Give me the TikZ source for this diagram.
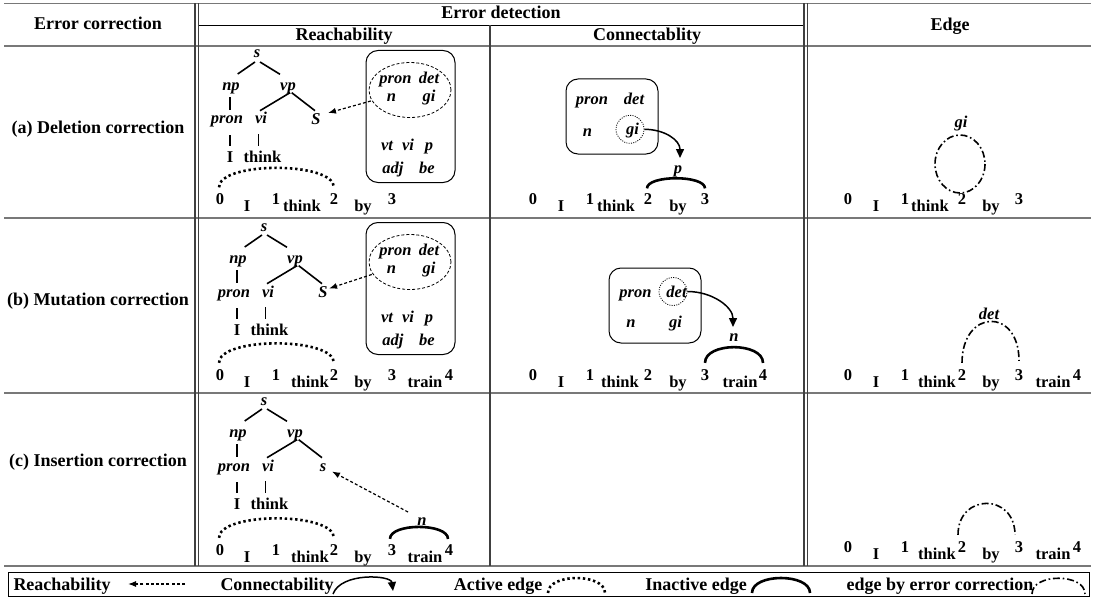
\documentclass[tikz,border=0pt]{standalone}
\usepackage{fontspec}
\setmainfont{Liberation Serif}
\usetikzlibrary{arrows.meta,shapes.geometric}
\definecolor{rulegray}{RGB}{120,120,120}
\tikzset{
  toprule/.style={draw=rulegray, line width=1.8},
  midrule/.style={draw=rulegray, line width=1.3},
  subrule/.style={draw=black, line width=0.9},
  vrule/.style={draw=black!75, line width=1.1},
  hd/.style={font=\fontsize{18}{20}\selectfont\bfseries, inner sep=0, anchor=base},
  lbl/.style={font=\fontsize{16.5}{18}\selectfont\bfseries\itshape, inner sep=0, anchor=base},
  wd/.style={font=\fontsize{16.5}{18}\selectfont\bfseries, inner sep=0, anchor=base},
  tedge/.style={line width=1.6},
  catbox/.style={draw, line width=1, rounded corners=12, inner sep=0},
  catell/.style={draw, ellipse, dash pattern=on 3 off 2, line width=0.8, inner sep=0},
  catcirc/.style={draw, circle, dash pattern=on 1 off 1.3, line width=0.8, inner sep=0, minimum size=28},
  reach/.style={dash pattern=on 3 off 2.2, line width=1.2, -{Latex[length=8pt,width=6pt]}},
  conn/.style={line width=1.5, -{Triangle[length=9pt,width=8pt]}},
  active/.style={line width=2.6, dash pattern=on 2.4 off 2.8},
  inactive/.style={line width=2.6},
  corr/.style={line width=1.6, dash pattern=on 7 off 2.8 on 1.6 off 2.8},
}
\newcommand\sentence[3]{%
  \foreach \tx/\xx/\nm/\dy in {#3}{\node[wd] (#1-\nm) at (\xx,#2+\dy) {\tx};}}
\newcommand\parsetree[4]{%
  \begin{scope}[shift={(#2,#3)}]
    \node[lbl] (#1-s) at (257,58) {s};
    \node[lbl] (#1-np) at (231,90.7) {np};
    \node[lbl] (#1-vp) at (288,90.7) {vp};
    \node[lbl] (#1-pron) at (227,124) {pron};
    \node[lbl] (#1-vi) at (261,124) {vi};
    \node[lbl] (#1-S) at (316,124.5) {#4};
    \node[wd] (#1-I) at (230,162) {I};
    \node[wd] (#1-think) at (262.5,162) {think};
  \end{scope}
  \draw[tedge] ([shift={(-2,4)}]#1-s.base) -- ([shift={(6.7,-16.7)}]#1-np.base);
  \draw[tedge] ([shift={(3,4)}]#1-s.base) -- ([shift={(-8,-16.4)}]#1-vp.base);
  \draw[tedge] ([shift={(-1,6.6)}]#1-np.base) -- ([shift={(3,-14)}]#1-pron.base);
  \draw[tedge] ([shift={(2,2)}]#1-vp.base) -- ([shift={(-1,-13.3)}]#1-vi.base);
  \draw[tedge] ([shift={(3.7,2)}]#1-vp.base) -- ([shift={(-1,-13.8)}]#1-S.base);
  \draw[tedge] ([shift={(3,11)}]#1-pron.base) -- ([shift={(0,-16)}]#1-I.base);
  \draw[tedge] ([shift={(-2.7,10.3)}]#1-vi.base) -- ([shift={(-4.2,-16)}]#1-think.base);
}
\newcommand\catset[3]{%
  \begin{scope}[shift={(#2,#3)}]
    \node[catbox, minimum width=89, minimum height=132] (#1-box) at (410.5,116.5) {};
    \node[catell, minimum width=82, minimum height=55] (#1-ell) at (410,90) {};
    \node[lbl] (#1-pron) at (395.5,83.5) {pron};
    \node[lbl] (#1-det) at (429,83.5) {det};
    \node[lbl] (#1-n) at (391.5,101.5) {n};
    \node[lbl] (#1-gi) at (429,101.5) {gi};
    \node[lbl] (#1-vt) at (387,150) {vt};
    \node[lbl] (#1-vi) at (408,150) {vi};
    \node[lbl] (#1-p) at (429,150) {p};
    \node[lbl] (#1-adj) at (393,173) {adj};
    \node[lbl] (#1-be) at (427,173) {be};
  \end{scope}}
\begin{document}
\begin{tikzpicture}[x=1pt,y=-1pt]
\useasboundingbox (0,0) rectangle (1094,599);
% ---------- table rules ----------
\draw[toprule] (4,3.5) -- (1091,3.5);
\draw[toprule] (4,46) -- (1091,46);
\draw[midrule] (4,218) -- (1091,218);
\draw[midrule] (4,393) -- (1091,393);
\draw[toprule] (4,566) -- (1091,566);
\draw[subrule] (198.5,25.5) -- (804,25.5);
\draw[vrule] (195,3.5) -- (195,566);
\draw[vrule] (198.5,3.5) -- (198.5,566);
\draw[vrule] (804,3.5) -- (804,566);
\draw[vrule] (807.5,3.5) -- (807.5,566);
\draw[vrule] (490,25.5) -- (490,566);
% ---------- header ----------
\node[hd] (h-corr) at (98,30) {Error correction};
\node[hd] (h-det) at (501,19) {Error detection};
\node[hd] (h-reach) at (344,41) {Reachability};
\node[hd] (h-conn) at (647,41) {Connectablity};
\node[hd] (h-edge) at (950,31) {Edge};
% ---------- row labels ----------
\node[hd] (r-a) at (98,133) {(a) Deletion correction};
\node[hd] (r-b) at (98,305) {(b) Mutation correction};
\node[hd] (r-c) at (98,466) {(c) Insertion correction};
% ---------- reachability (a) ----------
\parsetree{ta}{0}{0}{S}
\catset{ca}{0}{0}
\draw[reach, shorten <=1] (ca-ell) -- ([shift={(12,-11.5)}]ta-S.base);
\sentence{ra}{204.5}{0/220/0/0, I/247/I/7, 1/276/1/0, think/302/think/7, 2/334/2/0, by/363/by/7, 3/392/3/0}
\draw[active] ([shift={(-1,-6)}]ra-0.north) .. controls +(0,-26) and +(0,-26) .. ([shift={(0,-6)}]ra-2.north);
% ---------- reachability (b) ----------
\parsetree{tb}{7}{173}{S}
\catset{cb}{0}{172}
\draw[reach, shorten <=1] (cb-ell) -- ([shift={(6,-9)}]tb-S.base);
\sentence{rb}{380}{0/220/0/0, I/247/I/7, 1/276/1/0, think/310/think/7, 2/334/2/0, by/363/by/7, 3/392/3/0, train/425/train/7, 4/449/4/0}
\draw[active] ([shift={(-1,-6)}]rb-0.north) .. controls +(0,-26) and +(0,-26) .. ([shift={(0,-6)}]rb-2.north);
% ---------- reachability (c) ----------
\parsetree{tc}{7}{347}{s}
\sentence{rc}{555}{0/220/0/0, I/247/I/7, 1/276/1/0, think/310/think/7, 2/334/2/0, by/363/by/7, 3/392/3/0, train/425/train/7, 4/449/4/0}
\draw[active] ([shift={(-1,-6)}]rc-0.north) .. controls +(0,-26) and +(0,-26) .. ([shift={(0,-6)}]rc-2.north);
\draw[inactive] ([shift={(-2,-5)}]rc-3.north) .. controls +(0,-16) and +(0,-16) .. ([shift={(-1,-5)}]rc-4.north);
\node[lbl] (rc-n) at (422,525) {n};
\draw[reach] ([shift={(-14,-13)}]rc-n.base) -- ([shift={(9,0)}]tc-S.base);
% ---------- connectability (a) ----------
\node[catbox, minimum width=92, minimum height=75] (ka-box) at (612,116.5) {};
\node[lbl] (ka-pron) at (592,105) {pron};
\node[lbl] (ka-det) at (634,105) {det};
\node[lbl] (ka-n) at (587.5,136.5) {n};
\node[lbl] (ka-gi) at (632.5,134.5) {gi};
\node[catcirc] (ka-circ) at (630,129.3) {};
\node[lbl] (ka-p) at (678,173) {p};
\draw[conn] (ka-circ.east) .. controls +(20,0) and +(0,-18) .. ([shift={(2,-15)}]ka-p.base);
\sentence{ka}{204.5}{0/533/0/0, I/561/I/7, 1/590/1/0, think/616/think/7, 2/648/2/0, by/678/by/7, 3/705/3/0}
\draw[inactive] ([shift={(-1,-5)}]ka-2.north) .. controls +(0,-13.5) and +(0,-13.5) .. ([shift={(0,-5)}]ka-3.north);
% ---------- connectability (b) ----------
\node[catbox, minimum width=92, minimum height=75] (kb-box) at (655,305.5) {};
\node[lbl] (kb-pron) at (635.5,297) {pron};
\node[lbl] (kb-det) at (676.5,297) {det};
\node[lbl] (kb-n) at (631,327) {n};
\node[lbl] (kb-gi) at (675.5,327) {gi};
\node[catcirc] (kb-circ) at (673,291.5) {};
\node[lbl] (kb-n2) at (734,341) {n};
\draw[conn] (kb-circ.east) .. controls +(25,0) and +(0,-20) .. ([shift={(-1,-14)}]kb-n2.base);
\sentence{kb}{380}{0/533/0/0, I/561/I/7, 1/590/1/0, think/620/think/7, 2/648/2/0, by/678/by/7, 3/705/3/0, train/740/train/7, 4/763/4/0}
\draw[inactive] ([shift={(0,-6)}]kb-3.north) .. controls +(0,-21) and +(0,-21) .. ([shift={(0,-6)}]kb-4.north);
% ---------- edge (a) ----------
\sentence{ea}{204.5}{0/848/0/0, I/876/I/7, 1/905/1/0, think/930/think/7, 2/962/2/0, by/991/by/7, 3/1019/3/0}
\node[lbl] (ea-gi) at (961,127.3) {gi};
\draw[corr] ([shift={(-2,-40.5)}]ea-2.base) ellipse [x radius=25, y radius=29];
% ---------- edge (b) ----------
\sentence{eb}{380}{0/848/0/0, I/876/I/7, 1/905/1/0, think/937/think/7, 2/962/2/0, by/991/by/7, 3/1019/3/0, train/1053/train/7, 4/1077/4/0}
\node[lbl] (eb-det) at (989,319) {det};
\draw[corr] ([shift={(0,-6)}]eb-2.north) .. controls +(0,-54) and +(0,-54) .. ([shift={(0,-8)}]eb-3.north);
% ---------- edge (c) ----------
\sentence{ec}{552}{0/848/0/0, I/876/I/7, 1/905/1/0, think/937/think/7, 2/962/2/0, by/991/by/7, 3/1019/3/0, train/1053/train/7, 4/1077/4/0}
\draw[corr] ([shift={(-4,-6)}]ec-2.north) .. controls +(0,-42) and +(0,-42) .. ([shift={(-4,-6)}]ec-3.north);
% ---------- legend ----------
\node[draw, line width=0.9, minimum width=1081, minimum height=24, inner sep=0] (legend) at (548.5,584) {};
\node[hd] (lg-reach) at (62,590) {Reachability};
\coordinate (lg-r1) at (185,584);
\coordinate (lg-r2) at (128,584);
\draw[reach] (lg-r1) -- (lg-r2);
\node[hd] (lg-conn) at (277,590) {Connectability};
\coordinate (lg-c1) at (333,594);
\coordinate (lg-c2) at (393,591);
\draw[conn] (lg-c1) .. controls +(8,-22) and +(-2,-16) .. (lg-c2);
\node[hd] (lg-act) at (498,590) {Active edge};
\coordinate (lg-a1) at (548,593);
\coordinate (lg-a2) at (605,593);
\draw[active] (lg-a1) .. controls +(0,-20) and +(0,-20) .. (lg-a2);
\node[hd] (lg-inact) at (696,590) {Inactive edge};
\coordinate (lg-i1) at (752,593);
\coordinate (lg-i2) at (810,593);
\draw[inactive] (lg-i1) .. controls +(0,-20) and +(0,-20) .. (lg-i2);
\node[hd] (lg-corr) at (940,590) {edge by error correction};
\coordinate (lg-e1) at (1032,594);
\coordinate (lg-e2) at (1085,594);
\draw[corr] (lg-e1) .. controls +(0,-21) and +(0,-21) .. (lg-e2);
\end{tikzpicture}
\end{document}
